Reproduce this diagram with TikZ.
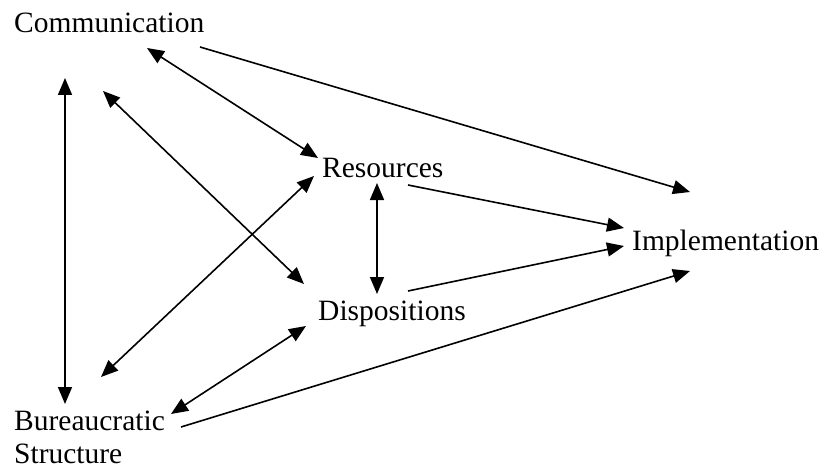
\documentclass[tikz,border=0pt]{standalone}
\usepackage{fontspec}
\setmainfont{Liberation Serif}
\usetikzlibrary{arrows.meta}
\begin{document}
\begin{tikzpicture}[x=1pt,y=-1pt,
  lbl/.style={anchor=base west,inner sep=0pt,font=\fontsize{29.5}{34}\selectfont},
  tip/.tip={Triangle[length=17pt,width=14pt]},
  arr/.style={line width=1.6pt,-tip},
  darr/.style={line width=1.6pt,tip-tip}]
\useasboundingbox (0,0) rectangle (825,468);
\node[lbl] (comm) at (14,33) {Communication};
\node[lbl] (res) at (322,178) {Resources};
\node[lbl] (disp) at (318,320) {Dispositions};
\node[lbl] (impl) at (632,250) {Implementation};
\node[lbl] (bur) at (14,430) {Bureaucratic};
\node[lbl] (str) at (14,463) {Structure};
% endpoints
\coordinate (cA) at (65,78);
\coordinate (bA) at (65,404);
\coordinate (cB) at (103,91);
\coordinate (dB) at (304,284);
\coordinate (cC) at (147,48);
\coordinate (rC) at (318,158);
\coordinate (cD) at (200,47);
\coordinate (iD) at (690,192);
\coordinate (bE) at (101,377);
\coordinate (rE) at (314,176);
\coordinate (bF) at (171,414);
\coordinate (dF) at (306,326);
\coordinate (bG) at (181,427);
\coordinate (iG) at (690,271);
\coordinate (rH) at (408,185);
\coordinate (iH) at (624,228);
\coordinate (dI) at (408,291);
\coordinate (iI) at (624,246);
\coordinate (rJ) at (377,183);
\coordinate (dJ) at (377,294);
\draw[darr] (cA) -- (bA);
\draw[darr] (cB) -- (dB);
\draw[darr] (cC) -- (rC);
\draw[arr] (cD) -- (iD);
\draw[darr] (bE) -- (rE);
\draw[darr] (bF) -- (dF);
\draw[arr] (bG) -- (iG);
\draw[arr] (rH) -- (iH);
\draw[arr] (dI) -- (iI);
\draw[darr] (rJ) -- (dJ);
\end{tikzpicture}
\end{document}
